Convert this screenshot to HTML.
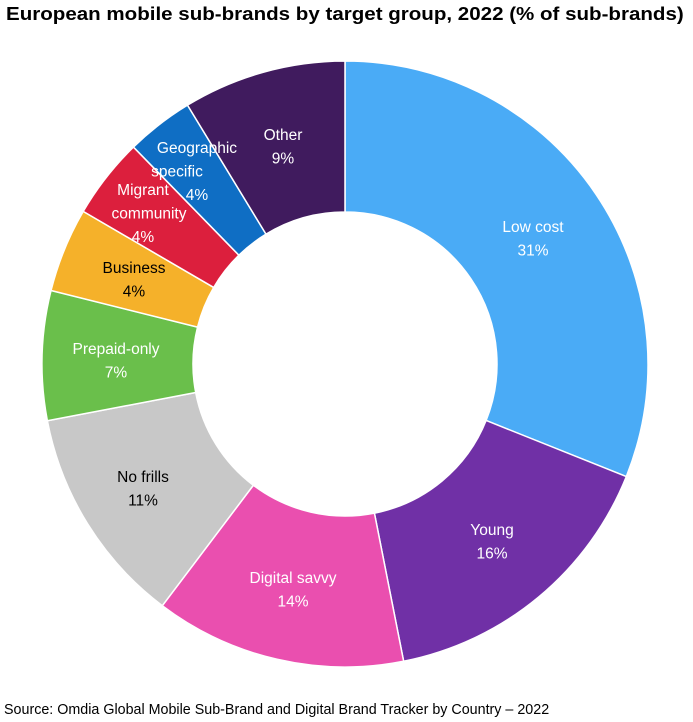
<!DOCTYPE html>
<html><head><meta charset="utf-8"><style>
body{margin:0;background:#fff;width:693px;height:722px;overflow:hidden;font-family:"Liberation Sans",sans-serif}
.t{position:absolute;left:6px;top:3px;font-size:18.5px;font-weight:bold;color:#000;white-space:nowrap;transform:scaleX(1.11);transform-origin:0 0}
.s{position:absolute;left:4px;top:702px;font-size:14.3px;color:#000;white-space:nowrap}
svg{position:absolute;left:0;top:0}
svg text{font-family:"Liberation Sans",sans-serif;font-size:15.5px;text-anchor:middle}
</style></head><body>
<div class="t">European mobile sub-brands by target group, 2022 (% of sub-brands)</div>
<svg id="c" width="693" height="722"></svg>
<div class="s">Source: Omdia Global Mobile Sub-Brand and Digital Brand Tracker by Country – 2022</div>
<script>
var cx=345,cy=364,R=303,r=152;
var cum=[0,31.06,46.9,60.3,72,78.9,83.4,87.7,91.3,100];
var col=["#4aabf6","#7030a6","#ea4faf","#c8c8c8","#6abf4b","#f5b12a","#dc1f3d","#0f6ec4","#401b5e"];
var s="";
function p(a,rad){var t=a/100*2*Math.PI;return [(cx+rad*Math.sin(t)).toFixed(2),(cy-rad*Math.cos(t)).toFixed(2)];}
for(var i=0;i<9;i++){var a=cum[i],b=cum[i+1],l=(b-a)>50?1:0;
var A=p(a,R),B=p(b,R),C=p(b,r),D=p(a,r);
s+='<path d="M'+A+' A'+R+' '+R+' 0 '+l+' 1 '+B+' L'+C+' A'+r+' '+r+' 0 '+l+' 0 '+D+'Z" fill="'+col[i]+'" stroke="#fff" stroke-width="1.5"/>';}
var L=[[533,232,"Low cost","31%","#fff"],[492,535,"Young","16%","#fff"],[293,583,"Digital savvy","14%","#fff"],[143,482,"No frills","11%","#000"],[116,354,"Prepaid-only","7%","#fff"],[134,273,"Business","4%","#000"],[149,195,"Migrant","community","#fff","4%"],[197,153,"Geographic","specific","#fff","4%"],[283,140,"Other","9%","#fff"]];
L.forEach(function(o){var ln=o.length>5?[o[2],o[3],o[5]]:[o[2],o[3]];
ln.forEach(function(t,k){var x=o[0];
if(o[2]=="Geographic"&&k==1)x=177;
if(o[2]=="Migrant"&&k==2)x=143;
if(o[2]=="Migrant"&&k==0)x=143;
s+='<text x="'+x+'" y="'+(o[1]+k*23.5)+'" fill="'+o[4]+'">'+t+'</text>';});});
document.getElementById("c").innerHTML=s;
</script>
</body></html>
